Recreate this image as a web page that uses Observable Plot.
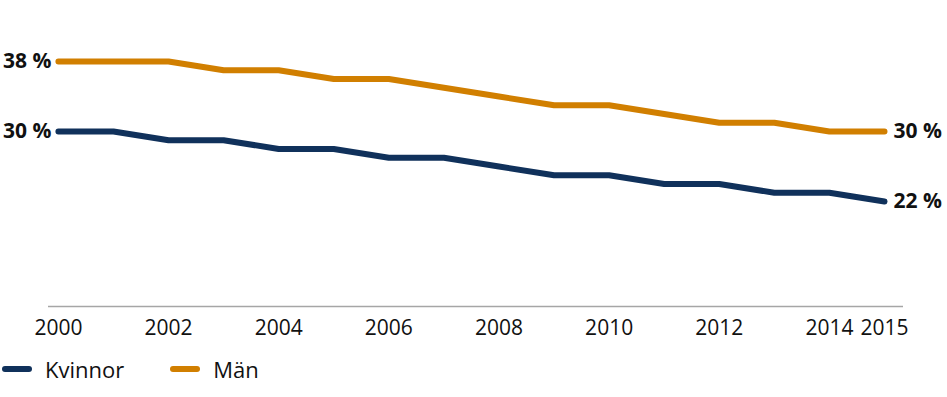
<!DOCTYPE html>
<html><head><meta charset="utf-8">
<script src="https://cdn.jsdelivr.net/npm/d3@7"></script>
<script src="https://cdn.jsdelivr.net/npm/@observablehq/plot@0.6"></script>
<style>
body{margin:0;background:#fff;font-family:"Open Sans",sans-serif;width:947px;height:397px;overflow:hidden;position:relative}
#legend{position:absolute;left:0;top:354px;display:flex;align-items:center;font-size:22px;color:#111}
.item{display:flex;align-items:center}
.sw{width:30px;height:6px;border-radius:3px;margin-left:2px;margin-right:13px}
</style>
</head><body><div id="chart"></div><div id="legend"></div><script>
const years = [2000,2001,2002,2003,2004,2005,2006,2007,2008,2009,2010,2011,2012,2013,2014,2015];
const kvinnor = [30,30,29,29,28,28,27,27,26,25,25,24,24,23,23,22];
const man = [38,38,38,37,37,36,36,35,34,33,33,32,31,31,30,30];
const seriesNames = ["Kvinnor","Män"];
const seriesColors = ["#10315b","#d17f00"];
const tickYears = [2000,2002,2004,2006,2008,2010,2012,2014,2015];

const data = [];
years.forEach((y,i)=>{
  data.push({year:y, value:kvinnor[i], series:seriesNames[0]});
  data.push({year:y, value:man[i], series:seriesNames[1]});
});
const baseline = [{y:10, x1:1999.82, x2:2015.345}];

const chart = Plot.plot({
  width:947, height:350,
  marginLeft:48, marginRight:44, marginTop:61, marginBottom:44,
  style:{fontFamily:'"Open Sans",sans-serif', fontSize:"21px", color:"#111", background:"#fff"},
  x:{domain:[1999.82,2015.345], ticks:tickYears, tickFormat:d=>String(d), tickSize:0, tickPadding:14, label:null},
  y:{domain:[10,38], axis:null},
  color:{domain:seriesNames, range:seriesColors},
  marks:[
    Plot.ruleY(baseline,{y:"y",x1:"x1",x2:"x2",stroke:"#a6a6a6",strokeWidth:1.5}),
    Plot.line(data,{x:"year",y:"value",z:"series",stroke:"series",strokeWidth:6,strokeLinecap:"round",strokeLinejoin:"round"}),
    Plot.text(data,Plot.selectFirst({x:"year",y:"value",z:"series",text:d=>d.value+"\u00a0%",textAnchor:"end",dx:-7,fontWeight:"bold",fontSize:21,fill:"#111"})),
    Plot.text(data,Plot.selectLast({x:"year",y:"value",z:"series",text:d=>d.value+"\u00a0%",textAnchor:"start",dx:9,fontWeight:"bold",fontSize:21,fill:"#111"}))
  ]
});
document.getElementById("chart").appendChild(chart);

const legend = document.getElementById("legend");
seriesNames.forEach((n,i)=>{
  const it=document.createElement("div"); it.className="item";
  if(i>0) it.style.marginLeft="44px";
  const sw=document.createElement("div"); sw.className="sw"; sw.style.background=seriesColors[i];
  const t=document.createElement("span"); t.textContent=n;
  it.appendChild(sw); it.appendChild(t); legend.appendChild(it);
});
</script></body></html>
